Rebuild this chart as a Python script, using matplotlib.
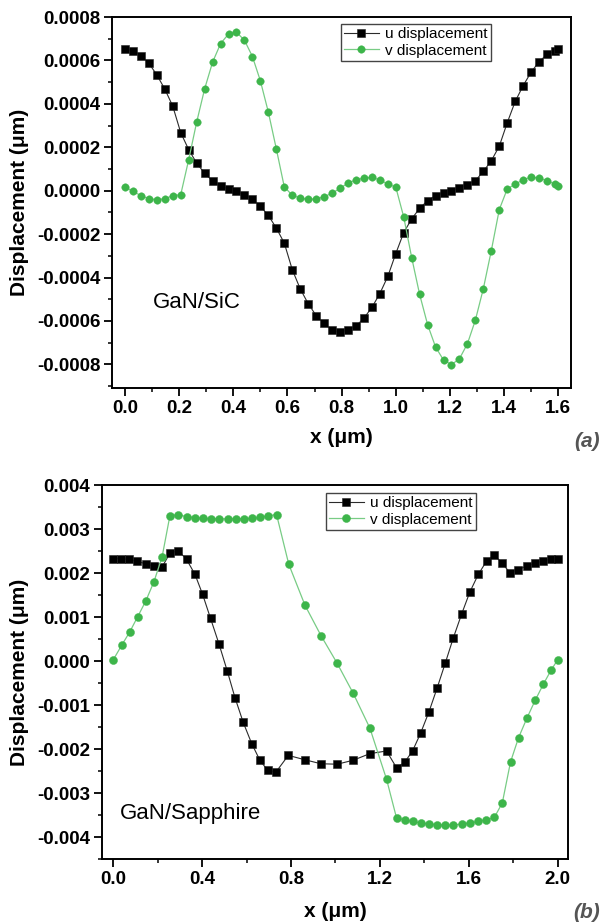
import matplotlib.pyplot as plt
import numpy as np
from matplotlib.ticker import MultipleLocator, FormatStrFormatter

plt.rcParams["font.family"] = ["Liberation Sans", "DejaVu Sans"]
plt.rcParams["axes.unicode_minus"] = False

# --- GaN/SiC: displacement along the surface (um) ---
x_sic = np.append(np.linspace(0, 1.588, 55), 1.6)
u_sic = [0.000651, 0.000645, 0.000622, 0.000587, 0.000533, 0.000468, 0.000389, 0.000267, 0.000189, 0.000127,
         0.000080, 0.000045, 0.000021, 0.000008, -0.000002, -0.000019, -0.000038, -0.000072, -0.000114, -0.000172,
         -0.000241, -0.000363, -0.000452, -0.000520, -0.000575, -0.000611, -0.000642, -0.000651, -0.000642, -0.000624,
         -0.000587, -0.000538, -0.000474, -0.000395, -0.000290, -0.000193, -0.000130, -0.000081, -0.000046, -0.000023,
         -0.000010, 0.000000, 0.000013, 0.000028, 0.000046, 0.000089, 0.000138, 0.000205, 0.000313, 0.000411,
         0.000484, 0.000546, 0.000594, 0.000628, 0.000645, 0.000651]
v_sic = [0.000017, -0.000003, -0.000023, -0.000037, -0.000041, -0.000037, -0.000023, -0.000018, 0.000143, 0.000316,
         0.000469, 0.000592, 0.000677, 0.000722, 0.000730, 0.000693, 0.000618, 0.000506, 0.000362, 0.000193,
         0.000018, -0.000021, -0.000034, -0.000040, -0.000038, -0.000028, -0.000012, 0.000011, 0.000035, 0.000050,
         0.000058, 0.000061, 0.000050, 0.000030, 0.000017, -0.000121, -0.000308, -0.000478, -0.000617, -0.000720,
         -0.000780, -0.000801, -0.000774, -0.000705, -0.000596, -0.000451, -0.000276, -0.000087, 0.000008, 0.000030,
         0.000050, 0.000063, 0.000058, 0.000046, 0.000030, 0.000020]

# --- GaN/Sapphire ---
x_sap_u = [0.0, 0.033, 0.072, 0.108, 0.146, 0.183, 0.22, 0.255, 0.293, 0.33,
           0.368, 0.402, 0.438, 0.476, 0.513, 0.548, 0.585, 0.623, 0.66, 0.695,
           0.732, 0.788, 0.863, 0.935, 1.008, 1.08, 1.155, 1.23, 1.275, 1.311,
           1.347, 1.383, 1.421, 1.457, 1.494, 1.53, 1.568, 1.605, 1.643, 1.68,
           1.715, 1.751, 1.785, 1.823, 1.86, 1.898, 1.935, 1.968, 2.0]
u_sap = [0.00233, 0.00233, 0.00231, 0.00227, 0.00221, 0.00216, 0.00214, 0.00245, 0.00251, 0.00231,
         0.00197, 0.00152, 0.00097, 0.00039, -0.00022, -0.00083, -0.00139, -0.00187, -0.00225, -0.00248,
         -0.00252, -0.00214, -0.00224, -0.00233, -0.00234, -0.00225, -0.00210, -0.00204, -0.00242, -0.00230,
         -0.00204, -0.00164, -0.00115, -0.00062, -0.00005, 0.00052, 0.00107, 0.00157, 0.00197, 0.00227,
         0.00241, 0.00222, 0.00201, 0.00208, 0.00216, 0.00222, 0.00228, 0.00231, 0.00233]
x_sap_v = [0.0, 0.038, 0.075, 0.11, 0.146, 0.183, 0.22, 0.255, 0.293, 0.33,
           0.368, 0.405, 0.441, 0.477, 0.515, 0.551, 0.588, 0.624, 0.66, 0.698,
           0.735, 0.79, 0.863, 0.935, 1.008, 1.08, 1.155, 1.23, 1.275, 1.311,
           1.347, 1.383, 1.421, 1.457, 1.494, 1.53, 1.568, 1.605, 1.643, 1.679,
           1.715, 1.751, 1.788, 1.824, 1.863, 1.899, 1.935, 1.97, 2.0]
v_sap = [0.00003, 0.00036, 0.00067, 0.00101, 0.00136, 0.00180, 0.00237, 0.00330, 0.00333, 0.00328,
         0.00326, 0.00324, 0.003235, 0.00323, 0.00323, 0.00323, 0.003235, 0.00324, 0.003265, 0.00330,
         0.00333, 0.00220, 0.00127, 0.00058, -0.00005, -0.00073, -0.00152, -0.00268, -0.00356, -0.00360,
         -0.00364, -0.00367, -0.00370, -0.00371, -0.00373, -0.00372, -0.00370, -0.00367, -0.00364, -0.00360,
         -0.00355, -0.00322, -0.00229, -0.00174, -0.00128, -0.00089, -0.00053, -0.00021, 0.00003]

U_LINE = "#2b2b2b"
V_MARK = "#3DB54A"
V_LINE = "#78CC85"


def draw_panel(ax, xu, u, xv, v, sq, dot):
    ax.plot(xu, u, color=U_LINE, lw=0.8, marker="s", ms=sq, mfc="black", mec="#222222", mew=0.4,
            label="u displacement")
    ax.plot(xv, v, color=V_LINE, lw=0.9, marker="o", ms=dot, mfc=V_MARK, mec=V_MARK, mew=0.3,
            label="v displacement")


def style_axes(ax, xmaj, xmin, ymaj, ymin, yfmt):
    ax.xaxis.set_major_locator(MultipleLocator(xmaj))
    ax.xaxis.set_minor_locator(MultipleLocator(xmin))
    ax.yaxis.set_major_locator(MultipleLocator(ymaj))
    ax.yaxis.set_minor_locator(MultipleLocator(ymin))
    ax.xaxis.set_major_formatter(FormatStrFormatter("%.1f"))
    ax.yaxis.set_major_formatter(FormatStrFormatter(yfmt))
    ax.tick_params(which="major", direction="out", length=5.5, width=1.3, labelsize=13.5, pad=3)
    ax.tick_params(which="minor", direction="out", length=3, width=1.1)
    for s in ax.spines.values():
        s.set_linewidth(1.4)
    plt.setp(ax.get_xticklabels() + ax.get_yticklabels(), fontweight="bold")
    ax.set_xlabel("x (μm)", fontsize=15, fontweight="bold")
    ax.set_ylabel("Displacement (μm)", fontsize=15, fontweight="bold")


def add_legend(ax, anchor):
    ax.legend(loc="upper left", bbox_to_anchor=anchor, borderaxespad=0, fontsize=11,
              frameon=True, fancybox=False, edgecolor="#444444", framealpha=1,
              handlelength=2.3, handletextpad=0.4, borderpad=0.2, labelspacing=0.15)


fig = plt.figure(figsize=(6.02, 9.24), dpi=100)

# (a) GaN/SiC
ax1 = fig.add_axes([0.1865, 0.5798, 0.7620, 0.4018])
draw_panel(ax1, x_sic, u_sic, x_sic, v_sic, 6.0, 5.4)
ax1.set_xlim(-0.047, 1.647)
ax1.set_ylim(-0.00091, 0.0008)
style_axes(ax1, 0.2, 0.1, 0.0002, 0.0001, "%.4f")
ax1.xaxis.set_label_coords(0.5, -0.107)
ax1.yaxis.set_label_coords(-0.182, 0.5)
ax1.text(0.088, 0.23, "GaN/SiC", transform=ax1.transAxes, fontsize=16, va="center")
add_legend(ax1, (0.498, 0.98))

# (b) GaN/Sapphire
ax2 = fig.add_axes([0.1689, 0.0700, 0.7751, 0.4051])
draw_panel(ax2, x_sap_u, u_sap, x_sap_v, v_sap, 6.0, 5.8)
ax2.set_xlim(-0.052, 2.048)
ax2.set_ylim(-0.0045, 0.004)
style_axes(ax2, 0.4, 0.2, 0.001, 0.0005, "%.3f")
ax2.xaxis.set_label_coords(0.5, -0.113)
ax2.yaxis.set_label_coords(-0.156, 0.5)
ax2.text(0.038, 0.123, "GaN/Sapphire", transform=ax2.transAxes, fontsize=16, va="center")
add_legend(ax2, (0.48, 0.978))

fig.text(0.997, 1 - 442 / 924, "(a)", ha="right", va="center", fontsize=15,
         fontweight="bold", style="italic", color="#555555")
fig.text(0.997, 1 - 912 / 924, "(b)", ha="right", va="center", fontsize=15,
         fontweight="bold", style="italic", color="#555555")

fig.savefig("out.png", dpi=100)
